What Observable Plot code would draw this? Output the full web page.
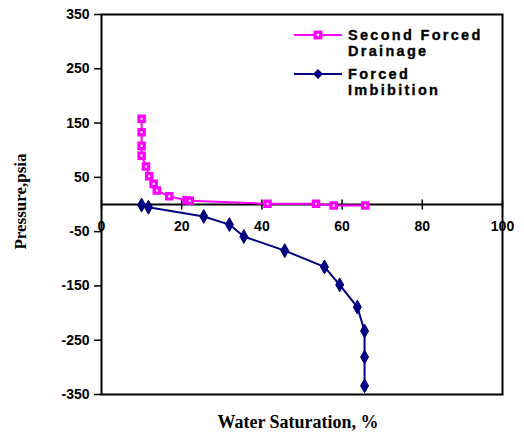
<!DOCTYPE html>
<html>
<head>
<meta charset="utf-8">
<script src="https://cdn.jsdelivr.net/npm/d3@7"></script>
<script src="https://cdn.jsdelivr.net/npm/@observablehq/plot@0.6"></script>
<style>
  body { margin: 0; background: #fff; }
  #wrap { position: relative; width: 524px; height: 438px; }
  #wrap svg { overflow: visible; }
  #legend { position: absolute; left: 0; top: 0; pointer-events: none; }
</style>
</head>
<body>
<div id="wrap"></div>
<script>
// ---- data ----
const drainageSw = [10, 10, 10, 10, 11.1, 11.9, 13, 13.8, 16.9, 21.2, 22, 41.4, 53.5, 57.9, 65.8];
const drainageP  = [158, 133, 108, 90, 70, 52, 38, 26, 15, 8, 7, 1.5, 1.5, -2, -2];
const imbSw = [10, 11.7, 25.5, 31.9, 35.5, 45.7, 55.6, 59.4, 63.8, 65.6, 65.6, 65.6];
const imbP  = [-1, -5, -22, -37, -59, -85, -115, -148, -189, -233, -281, -334];
const xTicks = [0, 20, 40, 60, 80, 100];
const yTicks = [350, 250, 150, 50, -50, -150, -250, -350];
const seriesNames = ["Second Forced Drainage", "Forced Imbibition"];
const xTitle = "Water Saturation, %";
const yTitle = "Pressure,psia";

const drainage = drainageSw.map((x, i) => ({x, y: drainageP[i]}));
const imbibition = imbSw.map((x, i) => ({x, y: imbP[i]}));

const MAG = "#ff00ff", NAVY = "#000080";
const SANS = "Liberation Sans, Arial, sans-serif";
const SERIF = "Liberation Serif, Times New Roman, serif";

// vertical tick symbol crossing the axis line
const vtick = { draw(ctx, size) { const r = Math.sqrt(size / Math.PI); ctx.moveTo(0, -r); ctx.lineTo(0, r); } };

const chart = Plot.plot({
  width: 524,
  height: 438,
  marginLeft: 101,
  marginRight: 22,
  marginTop: 14,
  marginBottom: 44,
  x: { domain: [0, 100] },
  y: { domain: [-350, 350] },
  style: { fontFamily: SANS, background: "#fff", overflow: "visible" },
  marks: [
    Plot.axisY({ ticks: yTicks, tickSize: 7, tickPadding: 5, label: null, fontWeight: "bold", fontSize: 14, tickFormat: d => String(d), stroke: "black", strokeWidth: 1.5 }),
    Plot.axisX({ ticks: [], label: null, tickSize: 0 }),
    Plot.frame({ stroke: "black", strokeWidth: 2 }),
    Plot.ruleY([0], { stroke: "black", strokeWidth: 2 }),
    Plot.dot(xTicks, { x: d => d, y: 0, symbol: vtick, r: 5, stroke: "black", strokeWidth: 1.5 }),
    Plot.text(xTicks, { x: d => d, y: 0, dy: 22, text: d => String(d), fontWeight: "bold", fontSize: 14, fill: "black" }),
    Plot.line(drainage, { x: "x", y: "y", stroke: MAG, strokeWidth: 2 }),
    Plot.dot(drainage, { x: "x", y: "y", symbol: "square", r: 3, fill: "white", stroke: MAG, strokeWidth: 3.2 }),
    Plot.line(imbibition, { x: "x", y: "y", stroke: NAVY, strokeWidth: 2 }),
    Plot.dot(imbibition, { x: "x", y: "y", symbol: "diamond", r: 4.2, fill: NAVY, stroke: NAVY, strokeWidth: 1 }),
    Plot.text([yTitle], { frameAnchor: "left", textAnchor: "middle", lineAnchor: "middle", dx: -81, dy: -3, rotate: -90, text: d => d, fontFamily: SERIF, fontWeight: "bold", fontSize: 17, fill: "black" }),
    Plot.text([xTitle], { frameAnchor: "bottom", textAnchor: "middle", lineAnchor: "middle", dy: 28, dx: -4, text: d => d, fontFamily: SERIF, fontWeight: "bold", fontSize: 18, fill: "black" })
  ]
});

const wrap = document.getElementById("wrap");
wrap.appendChild(chart);

// ---- legend (overlay) ----
const ns = "http://www.w3.org/2000/svg";
const leg = document.createElementNS(ns, "svg");
leg.setAttribute("id", "legend");
leg.setAttribute("width", 524);
leg.setAttribute("height", 438);
function el(tag, attrs, text) {
  const e = document.createElementNS(ns, tag);
  for (const k in attrs) e.setAttribute(k, attrs[k]);
  if (text) e.textContent = text;
  leg.appendChild(e);
  return e;
}
const legendItems = [
  { name: seriesNames[0], lines: ["Second Forced", "Drainage"], color: MAG, y: 35, sym: "square" },
  { name: seriesNames[1], lines: ["Forced", "Imbibition"], color: NAVY, y: 74, sym: "diamond" }
];
legendItems.forEach(it => {
  el("line", { x1: 294, x2: 342, y1: it.y, y2: it.y, stroke: it.color, "stroke-width": 2 });
  if (it.sym === "square") {
    el("rect", { x: 315.2, y: it.y - 2.8, width: 5.6, height: 5.6, fill: "white", stroke: it.color, "stroke-width": 3.2 });
  } else {
    el("path", { d: `M318,${it.y - 5}L323,${it.y}L318,${it.y + 5}L313,${it.y}Z`, fill: it.color });
  }
  it.lines.forEach((t, j) => {
    el("text", { x: 348, y: it.y + 5 + j * 15.5, "font-family": SANS, "font-weight": "bold", "font-size": 14.5, "letter-spacing": 2.3, fill: "black", stroke: "black", "stroke-width": 0.35 }, t);
  });
});
wrap.appendChild(leg);
</script>
</body>
</html>
